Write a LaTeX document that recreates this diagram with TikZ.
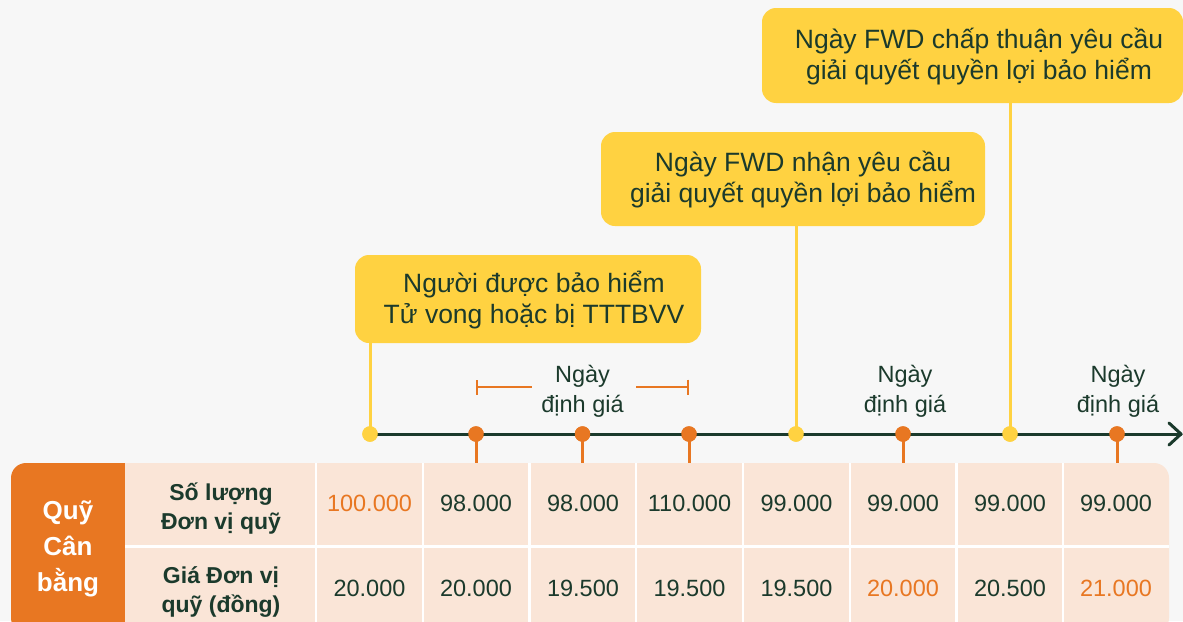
\documentclass[tikz,border=0pt]{standalone}
\usepackage{fontspec}
\setmainfont{Liberation Sans}
\usetikzlibrary{arrows.meta}
\definecolor{bg}{HTML}{F7F7F7}
\definecolor{fwdyellow}{HTML}{FFD241}
\definecolor{fwdorange}{HTML}{E87722}
\definecolor{peach}{HTML}{FAE5D7}
\definecolor{ink}{HTML}{1B3A2C}
\begin{document}
\begin{tikzpicture}[x=1pt,y=-1pt,
  callout/.style={fill=fwdyellow, rounded corners=14pt, inner sep=0pt},
  calltext/.style={text=ink, align=center, inner sep=0pt, font=\fontsize{26.5}{31}\selectfont},
  datelabel/.style={text=ink, align=center, inner sep=0pt, font=\fontsize{23.5}{30}\selectfont},
  ydot/.style={circle, fill=fwdyellow, minimum size=15.5pt, inner sep=0pt},
  odot/.style={circle, fill=fwdorange, minimum size=15.5pt, inner sep=0pt},
  ystem/.style={draw=fwdyellow, line width=3pt},
  ostem/.style={draw=fwdorange, line width=3pt},
  timeline/.style={draw=ink, line width=3pt, line cap=round, line join=round},
  bracketline/.style={draw=fwdorange, line width=2pt},
  cellnum/.style={text=ink, inner sep=0pt, font=\fontsize{23.5}{28}\selectfont},
  hilite/.style={text=fwdorange},
  rowhead/.style={text=ink, align=center, inner sep=0pt, font=\bfseries\fontsize{23}{29}\selectfont},
  fundhead/.style={text=white, align=center, inner sep=0pt, font=\bfseries\fontsize{26}{36}\selectfont},
  grid/.style={draw=white, line width=2.5pt},
]
\useasboundingbox (0,0) rectangle (1183,621);
\fill[bg] (0,0) rectangle (1183,621);

% table background
\fill[fwdorange, rounded corners=15pt] (11,463) rectangle (140,633);
\fill[peach, rounded corners=15pt] (110,463) rectangle (1169,633);
\fill[fwdorange] (40,463) rectangle (125,633);
\draw[grid] (125,546.5) -- (1169,546.5);
\foreach \gx in {316,423,529.5,636,743,850,956.5,1063}
  \draw[grid] (\gx,463) -- (\gx,633);
\coordinate (ttop) at (0,463);

% dots (positions)
\node[ydot] (d1) at (370,434) {};
\node[odot] (d2) at (476,434) {};
\node[odot] (d3) at (582.5,434) {};
\node[odot] (d4) at (689,434) {};
\node[ydot] (d5) at (796,434) {};
\node[odot] (d6) at (903,434) {};
\node[ydot] (d7) at (1010,434) {};
\node[odot] (d8) at (1117,434) {};

% callout boxes
\node[callout, minimum width=346pt, minimum height=88pt] (b1) at (528,299) {};
\node[calltext] (t1) at (534,300.5) {Người được bảo hiểm\\Tử vong hoặc bị TTTBVV};
\node[callout, minimum width=384pt, minimum height=94pt] (b2) at (793,179) {};
\node[calltext] (t2) at (803,180) {Ngày FWD nhận yêu cầu\\giải quyết quyền lợi bảo hiểm};
\node[callout, minimum width=421pt, minimum height=95pt] (b3) at (972.5,55.5) {};
\node[calltext] (t3) at (979,56.5) {Ngày FWD chấp thuận yêu cầu\\giải quyết quyền lợi bảo hiểm};

% stems
\draw[ystem] (d1.center) -- (d1.center |- b1.south);
\draw[ystem] (d5.center) -- (d5.center |- b2.south);
\draw[ystem] (d7.center) -- (d7.center |- b3.south);
\foreach \d in {d2,d3,d4,d6,d8}
  \draw[ostem] (\d.center) -- (\d.center |- ttop);

% timeline
\coordinate (tend) at (1181,434);
\draw[timeline] (d1.center) -- (tend);
\draw[timeline] (1169,423) -- (tend) -- (1169,445);

% redraw dots on top
\foreach \d/\s in {d1/ydot,d2/odot,d3/odot,d4/odot,d5/ydot,d6/odot,d7/ydot,d8/odot}
  \node[\s] at (\d) {};

% valuation labels
\node[datelabel] (v1) at (582.5,391.5) {Ngày\\định giá};
\node[datelabel] (v2) at (905,391.5) {Ngày\\định giá};
\node[datelabel] (v3) at (1118,391.5) {Ngày\\định giá};
\coordinate (bl) at (476,387);
\coordinate (br) at (689,387);
\draw[bracketline, {Bar[width=15pt]}-] (bl) -- (532,387);
\draw[bracketline, -{Bar[width=15pt]}] (636,387) -- (br);

% headers
\node[fundhead] (fh) at (68,549) {Quỹ\\Cân\\bằng};
\node[rowhead] (rh1) at (221,509) {Số lượng\\Đơn vị quỹ};
\node[rowhead] (rh2) at (221,592) {Giá Đơn vị\\quỹ (đồng)};

% row 1
\node[cellnum, hilite] (a1) at (369.5,503.5) {100.000};
\node[cellnum] (a2) at (476,503.5) {98.000};
\node[cellnum] (a3) at (583,503.5) {98.000};
\node[cellnum] (a4) at (689.5,503.5) {110.000};
\node[cellnum] (a5) at (796.5,503.5) {99.000};
\node[cellnum] (a6) at (903,503.5) {99.000};
\node[cellnum] (a7) at (1010,503.5) {99.000};
\node[cellnum] (a8) at (1116,503.5) {99.000};
% row 2
\node[cellnum] (p1) at (369.5,588.5) {20.000};
\node[cellnum] (p2) at (476,588.5) {20.000};
\node[cellnum] (p3) at (583,588.5) {19.500};
\node[cellnum] (p4) at (689.5,588.5) {19.500};
\node[cellnum] (p5) at (796.5,588.5) {19.500};
\node[cellnum, hilite] (p6) at (903,588.5) {20.000};
\node[cellnum] (p7) at (1010,588.5) {20.500};
\node[cellnum, hilite] (p8) at (1116,588.5) {21.000};
\end{tikzpicture}
\end{document}
